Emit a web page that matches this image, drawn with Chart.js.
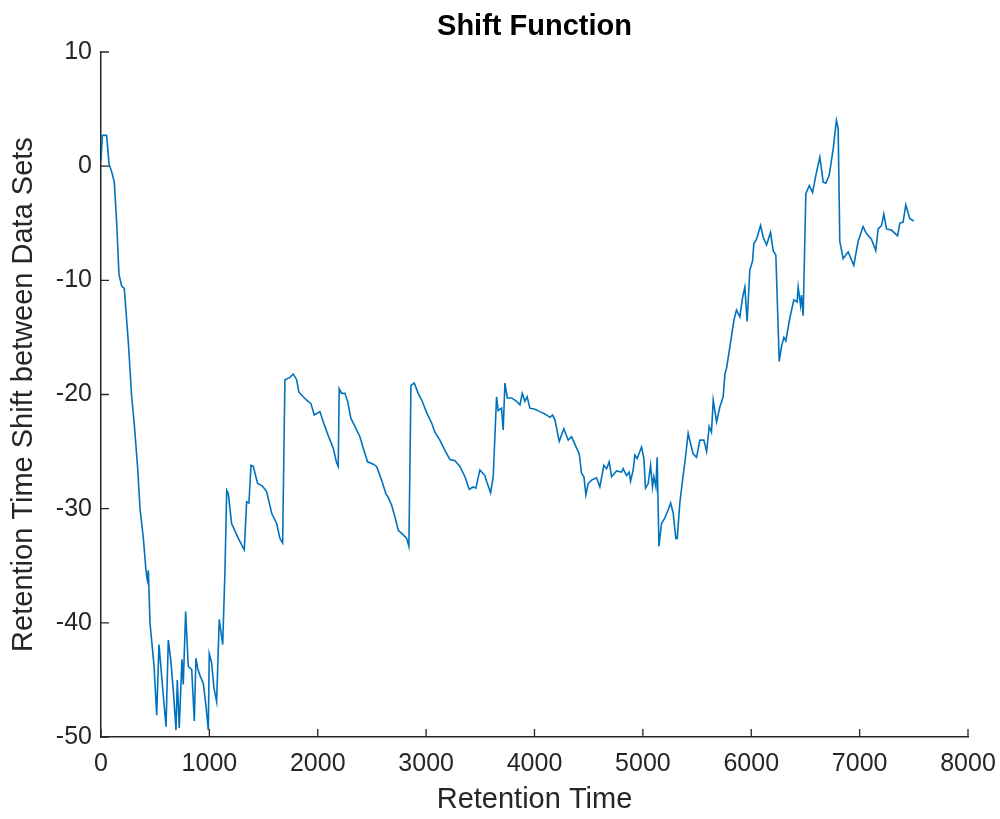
<!DOCTYPE html>
<html>
<head>
<meta charset="utf-8">
<script src="https://cdn.jsdelivr.net/npm/chart.js@4.4.1/dist/chart.umd.min.js"></script>
<style>
  html, body { margin: 0; padding: 0; background: #fff; }
  #wrap { width: 1000px; height: 819px; }
</style>
</head>
<body>
<div id="wrap"><canvas id="shiftChart"></canvas></div>
<script>
// Dados
const retentionTime = [
    0, 12, 52, 74, 99, 123, 145, 166, 191, 215, 252, 283, 307, 338, 360, 390, 415, 427, 437, 452,
    489, 514, 535, 560, 600, 621, 643, 667, 692, 704, 722, 747, 759, 781, 805, 837, 861, 876, 892, 913,
    944, 969, 990, 999, 1021, 1042, 1067, 1091, 1123, 1144, 1160, 1175, 1205, 1267, 1322, 1344, 1365, 1384, 1405, 1445,
    1488, 1528, 1575, 1621, 1651, 1676, 1697, 1744, 1774, 1805, 1826, 1866, 1898, 1937, 1968, 2020, 2051, 2097, 2143, 2174,
    2189, 2198, 2220, 2251, 2276, 2306, 2343, 2389, 2420, 2460, 2512, 2543, 2589, 2629, 2650, 2682, 2712, 2743, 2789, 2820,
    2841, 2860, 2890, 2927, 2960, 2989, 3010, 3051, 3081, 3127, 3173, 3220, 3266, 3312, 3358, 3398, 3434, 3459, 3496, 3542,
    3558, 3595, 3619, 3650, 3665, 3696, 3711, 3727, 3749, 3789, 3835, 3866, 3887, 3911, 3932, 3958, 4004, 4050, 4096, 4142,
    4167, 4188, 4228, 4271, 4311, 4342, 4388, 4413, 4434, 4456, 4474, 4495, 4527, 4573, 4603, 4640, 4665, 4689, 4711, 4757,
    4803, 4818, 4849, 4874, 4886, 4911, 4926, 4947, 4988, 5009, 5024, 5049, 5071, 5089, 5101, 5120, 5132, 5148, 5172, 5203,
    5234, 5256, 5280, 5304, 5317, 5341, 5366, 5387, 5418, 5440, 5464, 5495, 5526, 5563, 5588, 5612, 5633, 5649, 5680, 5710,
    5741, 5757, 5772, 5803, 5840, 5864, 5895, 5920, 5941, 5962, 5987, 6012, 6024, 6049, 6086, 6110, 6141, 6178, 6202, 6227,
    6258, 6279, 6301, 6319, 6356, 6393, 6423, 6433, 6455, 6464, 6479, 6504, 6535, 6566, 6596, 6633, 6664, 6688, 6719, 6756,
    6786, 6802, 6817, 6848, 6894, 6946, 6986, 7032, 7063, 7109, 7149, 7171, 7202, 7223, 7248, 7294, 7350, 7371, 7401, 7426,
    7463, 7500
];

const shiftValues = [
    0.5, 2.7, 2.7, 0.2, -0.5, -1.4, -5.0, -9.5, -10.5, -10.7, -15.4, -20.2, -22.6, -26.4, -30.0, -32.5, -35.4, -36.2, -35.4, -40.0,
    -43.7, -48.1, -41.9, -44.7, -49.1, -41.5, -43.2, -45.9, -49.4, -45.0, -49.2, -43.2, -45.4, -39.0, -43.8, -44.1, -48.6, -43.1, -44.0, -44.6,
    -45.3, -47.3, -49.4, -42.7, -43.5, -45.7, -46.9, -39.7, -41.9, -35.4, -28.4, -28.7, -31.3, -32.6, -33.6, -29.4, -29.5, -26.2, -26.3, -27.8,
    -28.0, -28.5, -30.4, -31.3, -32.6, -33.0, -18.7, -18.5, -18.2, -18.7, -19.8, -20.2, -20.5, -20.8, -21.8, -21.5, -22.4, -23.6, -24.7, -26.0,
    -26.3, -19.5, -19.9, -19.9, -20.6, -22.1, -22.8, -23.7, -24.7, -25.9, -26.1, -26.3, -27.5, -28.7, -29.0, -29.7, -30.7, -31.9, -32.3, -32.6,
    -33.3, -19.2, -19.0, -19.9, -20.5, -21.2, -21.7, -22.5, -23.3, -24.0, -24.9, -25.7, -25.8, -26.3, -27.2, -28.3, -28.1, -28.2, -26.6, -27.1,
    -27.6, -28.6, -27.2, -20.2, -21.4, -21.2, -23.1, -19.0, -20.3, -20.3, -20.6, -20.9, -19.9, -20.6, -20.2, -21.2, -21.3, -21.5, -21.7, -22.0,
    -21.8, -22.2, -24.1, -23.0, -24.0, -23.7, -24.7, -25.2, -26.9, -27.2, -28.8, -27.8, -27.5, -27.3, -28.1, -26.2, -26.5, -25.9, -27.2, -26.7,
    -26.8, -26.5, -27.1, -26.8, -27.6, -26.6, -25.3, -25.6, -24.6, -25.6, -28.2, -27.8, -26.2, -28.1, -27.2, -28.1, -25.5, -33.3, -31.3, -30.8,
    -30.1, -29.5, -30.4, -32.6, -32.6, -29.5, -27.5, -26.0, -23.4, -24.3, -25.2, -25.5, -24.0, -24.0, -25.0, -22.8, -23.3, -20.5, -22.4, -21.1,
    -20.2, -18.2, -17.7, -15.8, -13.5, -12.6, -13.2, -11.5, -10.6, -13.6, -9.1, -8.3, -6.8, -6.4, -5.2, -6.2, -6.9, -5.8, -7.4, -7.8,
    -17.1, -15.8, -15.0, -15.3, -13.3, -11.7, -11.9, -10.6, -12.2, -11.3, -13.1, -2.4, -1.7, -2.3, -0.8, 0.8, -1.4, -1.5, -0.8, 1.5,
    4.0, 3.3, -6.6, -8.1, -7.5, -8.7, -6.6, -5.3, -5.9, -6.4, -7.4, -5.5, -5.2, -4.2, -5.5, -5.6, -6.1, -5.0, -4.9, -3.4,
    -4.6, -4.8
];

const xTicks = [0, 1000, 2000, 3000, 4000, 5000, 6000, 7000, 8000];
const yTicks = [-50, -40, -30, -20, -10, 0, 10];

const titulo = 'Shift Function';
const rotuloX = 'Retention Time';
const rotuloY = 'Retention Time Shift between Data Sets';

const corEixo = '#262626';
const fonte = "'Liberation Sans', Arial, Helvetica, sans-serif";

// Marcas dos eixos para dentro (estilo MATLAB) e título centrado na área do gráfico
const matlabStyle = {
    id: 'matlabStyle',
    afterDatasetsDraw(chart) {
        const { ctx, chartArea, scales } = chart;
        const len = 8;
        ctx.save();
        ctx.strokeStyle = corEixo;
        ctx.lineWidth = 1.3;
        ctx.beginPath();
        xTicks.forEach(v => {
            const px = scales.x.getPixelForValue(v);
            ctx.moveTo(px, chartArea.bottom);
            ctx.lineTo(px, chartArea.bottom - len);
        });
        yTicks.forEach(v => {
            const py = scales.y.getPixelForValue(v);
            ctx.moveTo(chartArea.left, py);
            ctx.lineTo(chartArea.left + len, py);
        });
        ctx.stroke();

        ctx.fillStyle = '#000';
        ctx.font = `bold 29px ${fonte}`;
        ctx.textAlign = 'center';
        ctx.textBaseline = 'middle';
        ctx.fillText(titulo, (chartArea.left + chartArea.right) / 2, 27);
        ctx.restore();
    }
};

const pontos = retentionTime.map((t, i) => ({ x: t, y: shiftValues[i] }));

const ctx = document.getElementById('shiftChart').getContext('2d');
new Chart(ctx, {
    type: 'scatter',
    data: {
        datasets: [{
            data: pontos,
            showLine: true,
            borderColor: '#0072BD',
            borderWidth: 1.6,
            pointRadius: 0,
            tension: 0,
            fill: false
        }]
    },
    options: {
        responsive: true,
        maintainAspectRatio: false,
        animation: false,
        layout: { padding: { left: 0, right: 32, top: 52, bottom: 0 } },
        plugins: {
            legend: { display: false },
            tooltip: { enabled: false },
            title: { display: false }
        },
        scales: {
            x: {
                type: 'linear',
                min: 0,
                max: 8000,
                afterFit: s => {
                    s.height = 82;
                    s.paddingLeft = 0;
                    s.paddingRight = 0;
                },
                afterBuildTicks: s => { s.ticks = xTicks.map(v => ({ value: v })); },
                grid: { display: false, drawTicks: false },
                border: { display: true, color: corEixo, width: 1.5 },
                ticks: {
                    color: corEixo,
                    padding: 12,
                    maxRotation: 0,
                    font: { family: fonte, size: 25 },
                    callback: v => String(v)
                },
                title: {
                    display: true,
                    text: rotuloX,
                    color: corEixo,
                    font: { family: fonte, size: 29 },
                    padding: { top: 0, bottom: 2 }
                }
            },
            y: {
                type: 'linear',
                min: -50,
                max: 10,
                afterFit: s => { s.width = 101; },
                afterBuildTicks: s => { s.ticks = yTicks.map(v => ({ value: v })); },
                grid: { display: false, drawTicks: false },
                border: { display: true, color: corEixo, width: 1.5 },
                ticks: {
                    color: corEixo,
                    padding: 9,
                    font: { family: fonte, size: 25 },
                    callback: v => String(v)
                },
                title: {
                    display: true,
                    text: rotuloY,
                    color: corEixo,
                    font: { family: fonte, size: 29 },
                    padding: { top: 7, bottom: 0 }
                }
            }
        }
    },
    plugins: [matlabStyle]
});
</script>
</body>
</html>
